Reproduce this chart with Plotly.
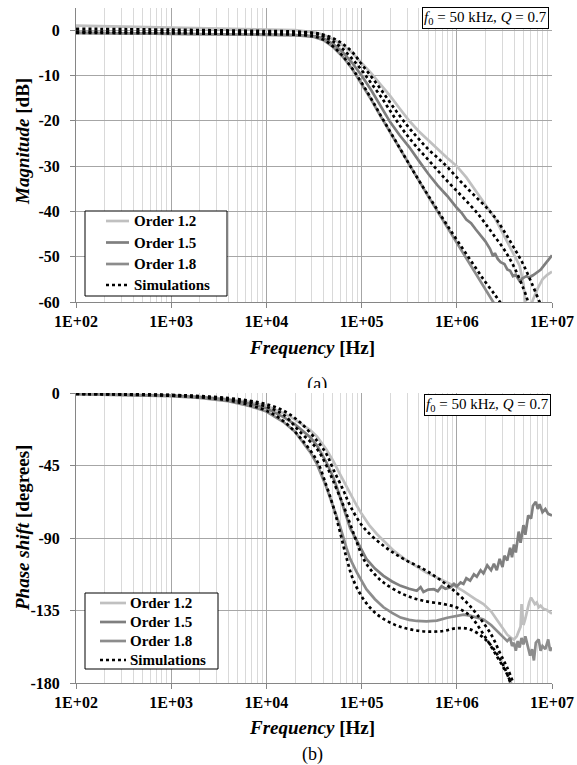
import plotly.graph_objects as go

W, H = 577, 765

# frequencies are stored as decades (log10 of Hz)
# ---------------- magnitude [dB] ----------------
mag_e_12 = [2.0, 3.0, 4.0, 4.3, 4.5, 4.6, 4.7, 4.8, 4.9, 5.0, 5.1, 5.2, 5.3, 5.4, 5.5, 5.6, 5.7, 5.8, 5.9,
            6.0, 6.1, 6.2, 6.3, 6.4, 6.5, 6.6, 6.66, 6.7, 6.72, 6.74, 6.76, 6.8, 6.85, 6.9, 6.95, 7.0]
mag_12 = [1.0, 0.6, 0.2, 0.0, -0.5, -1.0, -2.0, -3.3, -5.0, -7.2, -9.5, -12.0, -14.5, -17.3, -20.0, -22.3, -24.3,
          -26.3, -28.2, -30.0, -32.5, -35.5, -38.5, -41.5, -45.5, -49.5, -52.0, -56.0, -60.5, -64.0, -62.0, -59.5,
          -57.0, -55.0, -54.0, -53.3]

mag_e_15 = [2.0, 3.0, 4.0, 4.3, 4.5, 4.6, 4.7, 4.8, 4.9, 5.0, 5.1, 5.2, 5.3, 5.4, 5.5, 5.6, 5.7, 5.8, 5.9,
            6.0, 6.05, 6.1, 6.15, 6.2, 6.25, 6.3, 6.35, 6.38, 6.4, 6.43, 6.46, 6.5, 6.53, 6.56, 6.59, 6.62,
            6.66, 6.69, 6.73, 6.76, 6.8, 6.85, 6.88, 6.91, 6.95, 7.0]
mag_15 = [-0.6, -0.8, -1.0, -1.1, -1.3, -1.8, -3.0, -4.8, -7.2, -10.0, -13.2, -16.6, -20.3, -23.2, -25.8, -28.8,
          -31.7, -34.3, -36.6, -39.2, -40.3, -41.8, -42.6, -44.0, -45.4, -46.6, -48.3, -49.9, -49.2, -50.5, -51.2,
          -51.6, -52.8, -53.1, -54.3, -54.0, -55.4, -54.8, -54.3, -54.6, -54.1, -53.3, -52.9, -52.1, -51.0, -49.7]

mag_e_18 = [2.0, 3.0, 4.0, 4.3, 4.5, 4.6, 4.7, 4.8, 4.9, 5.0, 5.1, 5.2, 5.3, 5.4, 5.5, 5.6, 5.7, 5.8, 5.9,
            6.0, 6.1, 6.2, 6.3, 6.4]
mag_18 = [-0.6, -0.8, -1.0, -1.1, -1.5, -2.2, -3.7, -5.8, -8.5, -11.8, -15.3, -19.0, -22.6, -26.2, -29.8, -33.3,
          -36.7, -40.1, -43.5, -46.9, -50.3, -53.7, -57.2, -60.6]

sim_mag_e_12 = [2.0, 3.0, 4.0, 4.3, 4.5, 4.6, 4.7, 4.8, 4.9, 5.0, 5.1, 5.2, 5.3, 5.4, 5.5, 5.6, 5.7, 5.8, 5.9,
                6.0, 6.1, 6.2, 6.3, 6.4, 6.5, 6.6, 6.7, 6.8, 6.87, 6.9]
sim_mag_12 = [0.3, 0.1, -0.2, -0.3, -0.6, -1.0, -1.8, -3.0, -4.8, -7.5, -10.2, -13.0, -16.0, -18.9, -21.6, -24.0,
              -26.3, -28.2, -30.2, -32.5, -34.7, -36.8, -38.9, -41.3, -44.5, -48.0, -51.8, -56.5, -60.0, -61.5]

sim_mag_e_15 = [2.0, 3.0, 4.0, 4.3, 4.5, 4.6, 4.7, 4.8, 4.9, 5.0, 5.1, 5.2, 5.3, 5.4, 5.5, 5.6, 5.7, 5.8, 5.9,
                6.0, 6.1, 6.2, 6.3, 6.4, 6.5, 6.6, 6.7, 6.75, 6.8]
sim_mag_15 = [-0.3, -0.4, -0.6, -0.7, -0.8, -1.4, -2.5, -4.1, -6.3, -8.8, -11.7, -14.6, -17.8, -21.0, -23.8, -26.3,
              -28.6, -31.0, -33.3, -35.5, -37.7, -40.0, -42.7, -45.6, -48.5, -52.2, -57.0, -60.0, -63.0]

sim_mag_e_18 = [2.0, 3.0, 4.0, 4.3, 4.5, 4.6, 4.7, 4.8, 4.9, 5.0, 5.1, 5.2, 5.3, 5.4, 5.5, 5.6, 5.7, 5.8, 5.9,
                6.0, 6.1, 6.2, 6.3, 6.4, 6.47]
sim_mag_18 = [-0.6, -0.7, -0.9, -1.0, -1.4, -2.1, -3.6, -5.7, -8.4, -11.6, -15.1, -18.8, -22.4, -26.0, -29.6, -33.1,
              -36.5, -39.8, -43.1, -46.3, -49.4, -52.5, -55.6, -58.4, -60.5]

# ---------------- phase [degrees] ----------------
ph_e_12 = [2.0, 2.5, 3.0, 3.3, 3.6, 3.82, 4.0, 4.18, 4.3, 4.46, 4.53, 4.63, 4.7, 4.77, 4.84, 4.88, 4.95, 5.0,
           5.08, 5.16, 5.25, 5.34, 5.45, 5.58, 5.68, 5.79, 5.9, 6.0, 6.07, 6.14, 6.21, 6.28, 6.36, 6.43, 6.48,
           6.53, 6.57, 6.6, 6.63, 6.65, 6.67, 6.68, 6.69, 6.7, 6.72, 6.74, 6.76, 6.78, 6.8, 6.82, 6.84, 6.86,
           6.88, 6.91, 6.94, 6.97, 7.0]
ph_12 = [-0.5, -0.9, -1.5, -2.3, -3.8, -5.5, -8.0, -12.5, -16.5, -23.0, -27.0, -35.0, -42.0, -50.0, -58.0, -63.0,
         -70.0, -75.0, -82.0, -87.5, -93.0, -98.0, -103.0, -108.0, -111.5, -114.5, -117.5, -120.5, -123.0, -126.0,
         -128.5, -131.0, -135.5, -141.5, -146.0, -150.0, -152.0, -153.0, -151.0, -148.0, -145.0, -131.0, -136.0,
         -144.0, -140.0, -134.0, -130.0, -127.0, -129.0, -131.0, -130.0, -133.0, -132.0, -134.0, -134.5, -136.0,
         -137.0]

ph_e_15 = [2.0, 2.5, 3.0, 3.3, 3.6, 3.82, 4.0, 4.18, 4.3, 4.46, 4.53, 4.63, 4.7, 4.74, 4.77, 4.84, 4.88, 4.95,
           5.0, 5.05, 5.14, 5.23, 5.32, 5.41, 5.5, 5.58, 5.62, 5.65, 5.7, 5.76, 5.8, 5.84, 5.88, 5.93, 5.97, 6.0,
           6.04, 6.07, 6.1, 6.14, 6.18, 6.21, 6.25, 6.28, 6.32, 6.36, 6.39, 6.42, 6.45, 6.48, 6.5, 6.53, 6.56,
           6.58, 6.6, 6.62, 6.65, 6.67, 6.7, 6.72, 6.75, 6.78, 6.8, 6.83, 6.85, 6.87, 6.9, 6.93, 6.96, 7.0]
ph_15 = [-0.6, -1.0, -1.7, -2.6, -4.3, -6.5, -9.5, -15.0, -19.5, -27.5, -32.5, -43.0, -52.0, -58.5, -64.0, -77.0,
         -84.0, -91.7, -97.0, -103.0, -109.0, -113.5, -117.0, -119.7, -121.5, -122.8, -120.5, -123.5, -122.0,
         -121.8, -123.0, -120.0, -121.5, -120.7, -118.5, -120.0, -117.6, -118.5, -115.0, -116.5, -112.5, -114.0,
         -110.0, -112.0, -107.0, -110.0, -106.0, -110.0, -103.0, -108.0, -101.0, -104.0, -96.0, -102.0, -94.0,
         -99.0, -86.0, -93.0, -82.0, -88.0, -76.0, -78.0, -70.0, -67.5, -72.0, -69.0, -74.0, -72.0, -75.0, -76.0]

ph_e_18 = [2.0, 2.5, 3.0, 3.3, 3.6, 3.82, 4.0, 4.18, 4.3, 4.46, 4.53, 4.63, 4.7, 4.77, 4.84, 4.88, 4.95, 5.0,
           5.05, 5.14, 5.23, 5.32, 5.41, 5.5, 5.58, 5.68, 5.79, 5.9, 6.0, 6.07, 6.14, 6.21, 6.28, 6.36, 6.43,
           6.48, 6.53, 6.56, 6.58, 6.6, 6.62, 6.64, 6.66, 6.68, 6.7, 6.72, 6.75, 6.77, 6.79, 6.81, 6.83, 6.86,
           6.88, 6.9, 6.93, 6.96, 6.98, 7.0]
ph_18 = [-0.7, -1.1, -1.9, -3.0, -5.0, -8.0, -11.5, -18.0, -24.0, -36.7, -44.0, -58.5, -70.0, -82.0, -96.0,
         -103.0, -111.4, -117.0, -121.8, -128.0, -133.0, -136.5, -139.4, -140.8, -141.5, -141.8, -141.3, -139.5,
         -138.4, -137.6, -138.2, -139.3, -140.5, -144.0, -148.0, -151.0, -154.0, -152.0, -157.0, -155.0, -160.0,
         -154.0, -158.0, -152.0, -156.0, -151.0, -158.0, -163.0, -159.0, -166.0, -155.0, -153.0, -160.0, -157.0,
         -159.0, -153.0, -160.0, -158.0]

sim_ph_e_12 = [2.0, 2.5, 3.0, 3.3, 3.6, 3.82, 4.0, 4.18, 4.35, 4.53, 4.63, 4.7, 4.81, 4.88, 5.02, 5.23, 5.44,
               5.65, 5.79, 5.93, 6.07, 6.21, 6.36, 6.46, 6.53, 6.6]
sim_ph_12 = [-0.4, -0.7, -1.2, -1.9, -3.2, -4.8, -7.0, -11.0, -18.0, -29.5, -37.8, -47.0, -60.6, -70.0, -83.4,
             -94.8, -103.0, -109.3, -114.5, -120.7, -128.0, -137.3, -149.8, -162.2, -170.5, -181.0]

sim_ph_e_15 = [2.0, 2.5, 3.0, 3.3, 3.6, 3.82, 4.0, 4.18, 4.35, 4.53, 4.63, 4.7, 4.81, 4.88, 4.95, 5.02, 5.12,
               5.23, 5.44, 5.65, 5.86, 6.0, 6.14, 6.28, 6.43, 6.53, 6.58]
sim_ph_15 = [-0.5, -0.8, -1.4, -2.2, -3.8, -5.8, -8.5, -13.5, -24.0, -34.6, -45.0, -54.4, -70.0, -81.3, -92.7,
             -103.0, -111.4, -117.6, -125.0, -129.0, -131.0, -133.2, -138.4, -149.8, -164.3, -174.7, -182.0]

sim_ph_e_18 = [2.0, 2.5, 3.0, 3.3, 3.6, 3.82, 4.0, 4.18, 4.35, 4.53, 4.63, 4.7, 4.77, 4.84, 4.91, 5.02, 5.16,
               5.34, 5.51, 5.69, 5.86, 6.0, 6.14, 6.28, 6.39, 6.5, 6.57]
sim_ph_18 = [-0.6, -1.0, -1.7, -2.7, -4.6, -7.5, -11.0, -17.5, -27.4, -42.0, -57.5, -70.0, -85.5, -102.0, -115.6,
             -128.0, -137.3, -143.6, -146.7, -148.1, -147.7, -146.0, -146.7, -151.9, -159.1, -170.5, -181.0]

freq_ticks = [1e2, 1e3, 1e4, 1e5, 1e6, 1e7]
freq_labels = ["1E+02", "1E+03", "1E+04", "1E+05", "1E+06", "1E+07"]
mag_ticks = [0, -10, -20, -30, -40, -50, -60]
phase_ticks = [0, -45, -90, -135, -180]
series_names = ["Order 1.2", "Order 1.5", "Order 1.8", "Simulations"]

C12, C15, C18 = "#c0c0c0", "#7f7f7f", "#8c8c8c"
SERIF = "Liberation Serif"
LW = 2.7


def hz(exps):
    return [10 ** e for e in exps]


def px_x(px):
    return px / W


def px_y(py):
    return 1 - py / H


fig = go.Figure()

panels = [
    ("x", "y",
     [(mag_e_12, mag_12, C12), (mag_e_15, mag_15, C15), (mag_e_18, mag_18, C18)],
     [(sim_mag_e_12, sim_mag_12), (sim_mag_e_15, sim_mag_15), (sim_mag_e_18, sim_mag_18)]),
    ("x2", "y2",
     [(ph_e_12, ph_12, C12), (ph_e_15, ph_15, C15), (ph_e_18, ph_18, C18)],
     [(sim_ph_e_12, sim_ph_12), (sim_ph_e_15, sim_ph_15), (sim_ph_e_18, sim_ph_18)]),
]

for xa, ya, meas, sims in panels:
    for (e, v, col), name in zip(meas, series_names):
        fig.add_trace(go.Scatter(x=hz(e), y=v, name=name, mode="lines", xaxis=xa, yaxis=ya,
                                 showlegend=False, line=dict(color=col, width=LW)))
    for e, v in sims:
        fig.add_trace(go.Scatter(x=hz(e), y=v, name="Simulations", mode="lines", xaxis=xa, yaxis=ya,
                                 showlegend=False,
                                 line=dict(color="black", width=LW, dash="dot", shape="spline")))

# "(a)" sits partly hidden under the lower chart
fig.add_trace(go.Scatter(x=[0.5], y=[0.1], mode="text", text=["(a)"], xaxis="x3", yaxis="y3",
                         textfont=dict(family=SERIF, size=18, color="black"), cliponaxis=True,
                         showlegend=False, hoverinfo="skip"))

tickfont = dict(family=SERIF, size=16, color="black", weight="bold")
minor_vals = [k * 10 ** d for d in range(2, 7) for k in range(2, 10)]

xcommon = dict(type="log", range=[2, 7], tickmode="array", tickvals=freq_ticks, ticktext=freq_labels,
               showgrid=True, gridcolor="#a6a6a6", gridwidth=1, zeroline=False, automargin=False,
               showline=True, linecolor="#868686", linewidth=1, ticks="outside", ticklen=5,
               tickcolor="#868686", tickfont=tickfont,
               minor=dict(tickmode="array", tickvals=minor_vals, showgrid=True,
                          gridcolor="#d9d9d9", gridwidth=1, ticks=""))
ycommon = dict(showgrid=True, gridcolor="#a6a6a6", gridwidth=1, zeroline=False, tickmode="array",
               automargin=False, showline=True, linecolor="#868686", linewidth=1, ticks="outside", ticklen=5,
               tickcolor="#868686", tickfont=tickfont, ticklabelstandoff=7)

x_dom = [px_x(76), px_x(552)]

# hand-built legends (Excel style: tight box, short line samples)
shapes = []
annotations = []
legend_boxes = [
    dict(box=(85, 227, 211, 296), rows=[221, 242.5, 264, 285], sample=(106, 129), text_x=132),
    dict(box=(85, 218, 593, 669), rows=[603, 622, 641, 660], sample=(100, 126), text_x=128),
]
for lb in legend_boxes:
    x0, x1, y0, y1 = lb["box"]
    shapes.append(dict(type="rect", xref="paper", yref="paper", x0=px_x(x0), x1=px_x(x1),
                       y0=px_y(y1), y1=px_y(y0), fillcolor="white", line=dict(color="black", width=1),
                       layer="above"))
    styles = [(C12, "solid"), (C15, "solid"), (C18, "solid"), ("black", "dot")]
    for ry, name, (col, dash) in zip(lb["rows"], series_names, styles):
        shapes.append(dict(type="line", xref="paper", yref="paper", x0=px_x(lb["sample"][0]),
                           x1=px_x(lb["sample"][1]), y0=px_y(ry), y1=px_y(ry), layer="above",
                           line=dict(color=col, width=LW, dash=dash)))
        annotations.append(dict(text=name, xref="paper", yref="paper", x=px_x(lb["text_x"]), y=px_y(ry),
                                xanchor="left", yanchor="middle", showarrow=False,
                                font=dict(family=SERIF, size=15, color="black", weight="bold")))

title_font = dict(family=SERIF, size=19, color="black")
box_text = "<i>f</i><sub>0</sub> = 50 kHz, <i>Q</i> = 0.7"
for right, top in [(549, 7), (551, 394)]:
    annotations.append(dict(text=box_text, xref="paper", yref="paper", x=px_x(right), y=px_y(top),
                            xanchor="right", yanchor="top", showarrow=False,
                            font=dict(family=SERIF, size=15, color="black"), bgcolor="white",
                            bordercolor="black", borderwidth=1, borderpad=1))
for text, x, y, angle in [("<b><i>Magnitude</i> [dB]</b>", 22, 142, -90),
                          ("<b><i>Phase shift</i> [degrees]</b>", 22, 528, -90),
                          ("<b><i>Frequency</i> [Hz]</b>", 312, 348, 0),
                          ("<b><i>Frequency</i> [Hz]</b>", 312, 727, 0)]:
    annotations.append(dict(text=text, xref="paper", yref="paper", x=px_x(x), y=px_y(y), textangle=angle,
                            xanchor="center", yanchor="middle", showarrow=False, font=title_font))
annotations.append(dict(text="(b)", xref="paper", yref="paper", x=px_x(312), y=px_y(754), xanchor="center",
                        yanchor="middle", showarrow=False, font=dict(family=SERIF, size=18, color="black")))

fig.update_layout(
    width=W, height=H, margin=dict(l=0, r=0, t=0, b=0, autoexpand=False),
    paper_bgcolor="white", plot_bgcolor="white", showlegend=False,
    xaxis=dict(domain=x_dom, anchor="y", **xcommon),
    yaxis=dict(domain=[px_y(302), px_y(7.5)], anchor="x", range=[-60, 5.0], tickvals=mag_ticks,
               ticktext=[str(t) for t in mag_ticks], **ycommon),
    xaxis2=dict(domain=x_dom, anchor="y2", **xcommon),
    yaxis2=dict(domain=[px_y(683), px_y(393)], anchor="x2", range=[-180, 0], tickvals=phase_ticks,
                ticktext=[str(t) for t in phase_ticks], **ycommon),
    xaxis3=dict(domain=[0.4, 0.7], range=[0, 1], visible=False, automargin=False),
    yaxis3=dict(domain=[px_y(388), px_y(361)], range=[0, 1], visible=False, anchor="x3", automargin=False),
    shapes=shapes,
    annotations=annotations,
)

# the page's default 8px body margin would shift the 577x765 figure, so drop it
fig.write_html("out.html", config={"displayModeBar": False},
               post_script="document.body.style.margin='0px';document.body.style.overflow='hidden';")
